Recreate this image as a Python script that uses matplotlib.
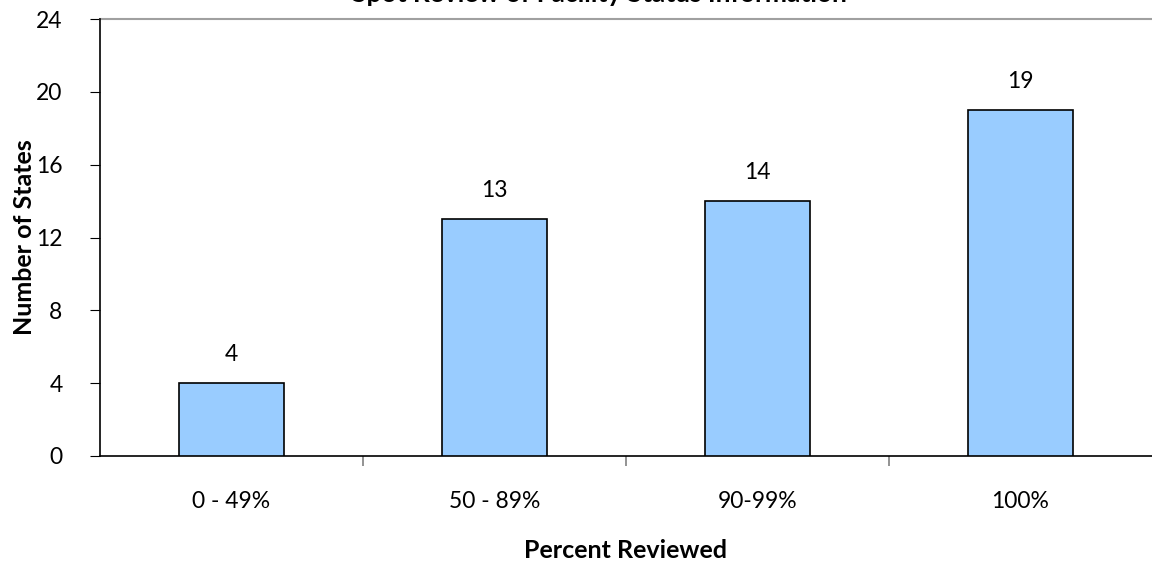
import matplotlib.pyplot as plt
import numpy as np

# data
categories = ['0 - 49%', '50 - 89%', '90-99%', '100%']
states = [4, 13, 14, 19]

plt.rcParams['font.family'] = ['Lato', 'DejaVu Sans']

fig = plt.figure(figsize=(11.52, 5.63), dpi=100)
ax = fig.add_axes([100 / 1152, 1 - 456 / 563, 1 - 100 / 1152, (456 - 19) / 563])

x = np.arange(len(categories))
bars = ax.bar(x, states, width=0.4, color='#99ccff', edgecolor='black', linewidth=1.2, zorder=3)
for b, v in zip(bars, states):
    ax.text(b.get_x() + b.get_width() / 2, v + 1.0, str(v), ha='center', va='bottom', fontsize=16.5)

ax.set_xlim(-0.5, len(categories) - 0.5)
ax.set_ylim(0, 24)
ax.set_yticks(range(0, 25, 4))
ax.tick_params(axis='y', labelsize=16.5, length=7, direction='out', pad=20)
ax.set_xticks(x)
ax.set_xticklabels(categories, fontsize=16.5)
ax.tick_params(axis='x', length=0, pad=25)
# category boundary ticks
ax.set_xticks(np.arange(0.5, len(categories) - 0.5), minor=True)
ax.tick_params(axis='x', which='minor', length=7, color='#808080', width=1.2)

ax.axhline(24, color='#a0a0a0', lw=1.5, clip_on=False)
ax.spines['top'].set_visible(False)
ax.spines['right'].set_visible(False)
ax.spines['left'].set_linewidth(1.2)
ax.spines['bottom'].set_linewidth(1.2)

ax.set_xlabel('Percent Reviewed', fontsize=18, fontweight='bold', labelpad=20)
ax.set_ylabel('Number of States', fontsize=18, fontweight='bold', labelpad=0)

# title is cut off at the top edge in the reference
fig.text(0.52, 1 - 2 / 563, 'Spot Review of Facility Status Information', ha='center',
         va='baseline', fontsize=19, fontweight='bold')

fig.savefig('out.png', dpi=100)
